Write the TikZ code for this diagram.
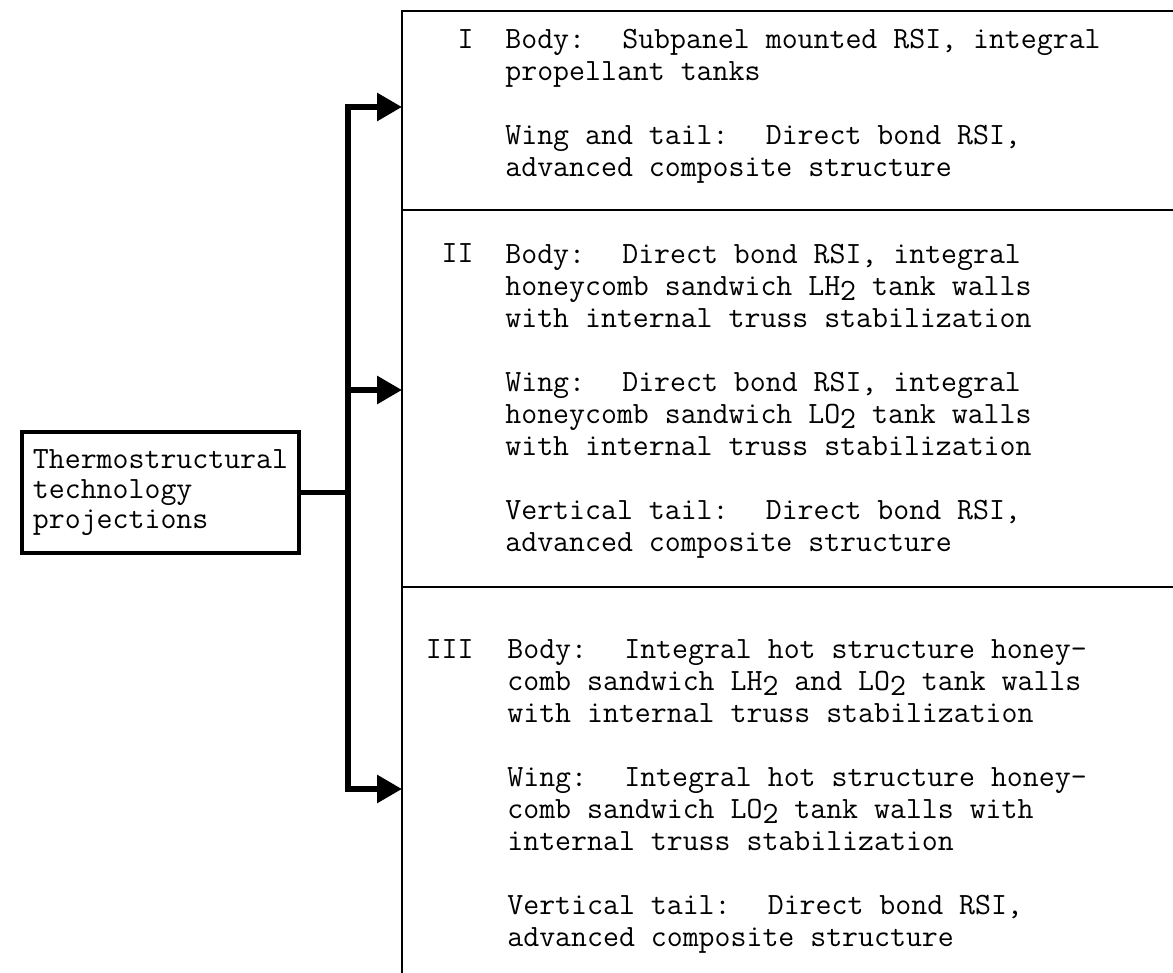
\documentclass[tikz,border=0pt]{standalone}
\usepackage{fontspec}
\usetikzlibrary{arrows.meta}
\newcommand{\dn}[1]{\raisebox{-2.5pt}{#1}}

\begin{document}
\begin{tikzpicture}[
  x=0.5pt,y=-0.5pt,
  every node/.style={font=\ttfamily\fontsize{15.48}{16}\selectfont,inner sep=0pt},
  rule/.style={line width=1.3pt},
  bus/.style={line width=3pt,line join=miter},
  tip/.style={-{Triangle[length=12.5pt,width=13.5pt]}},
  block/.style={anchor=base west,align=left}]
  \useasboundingbox (0,0) rectangle (1173,973);
  % frame of the three options, open to the right and below
  \draw[rule] (402,973) -- (402,11) -- (1173,11);
  \draw[rule] (402,210) -- (1173,210) (402,587) -- (1173,587);

  \node[draw,line width=1.6pt,minimum width=138.5pt,minimum height=60.5pt,
    align=left,font=\ttfamily\fontsize{15.48}{15}\selectfont]
    (tech) at (160.5,492.5) {Thermostructural\\technology\\projections};

  \coordinate (busI) at (348,107);
  \coordinate (busII) at (348,390);
  \coordinate (busIII) at (348,789);
  \coordinate (inI) at (402,107);
  \coordinate (inII) at (402,390);
  \coordinate (inIII) at (402,789);
  \draw[bus,line width=2.2pt] (tech.east) -- (tech.east -| busI);
  \draw[bus,{Triangle[length=12.5pt,width=13.5pt]}-{Triangle[length=12.5pt,width=13.5pt]}]
    (inI) -- (busI) -- (busIII) -- (inIII);
  \draw[bus,tip] (busII) -- (inII);

  \foreach \n/\y in {I/49,II/263,III/658}
    \node[anchor=base east] (num\n) at (474,\y) {\n};

  % multi-line blocks sit on the baseline of their last line
  \node[block] (secI) at (505,177) {Body:~ Subpanel mounted RSI, integral\\
    propellant tanks\\[16pt]
    Wing and tail:~ Direct bond RSI,\\
    advanced composite structure};
  \node[block] (secII) at (505,551) {Body:~ Direct bond RSI, integral\\
    honeycomb sandwich LH\dn{2} tank walls\\
    with internal truss stabilization\\[16pt]
    Wing:~ Direct bond RSI, integral\\
    honeycomb sandwich LO\dn{2} tank walls\\
    with internal truss stabilization\\[16pt]
    Vertical tail:~ Direct bond RSI,\\
    advanced composite structure};
  \node[block] (secIII) at (507,946) {Body:~ Integral hot structure honey-\\
    comb sandwich LH\dn{2} and LO\dn{2} tank walls\\
    with internal truss stabilization\\[16pt]
    Wing:~ Integral hot structure honey-\\
    comb sandwich LO\dn{2} tank walls with\\
    internal truss stabilization\\[16pt]
    Vertical tail:~ Direct bond RSI,\\
    advanced composite structure};
\end{tikzpicture}
\end{document}
